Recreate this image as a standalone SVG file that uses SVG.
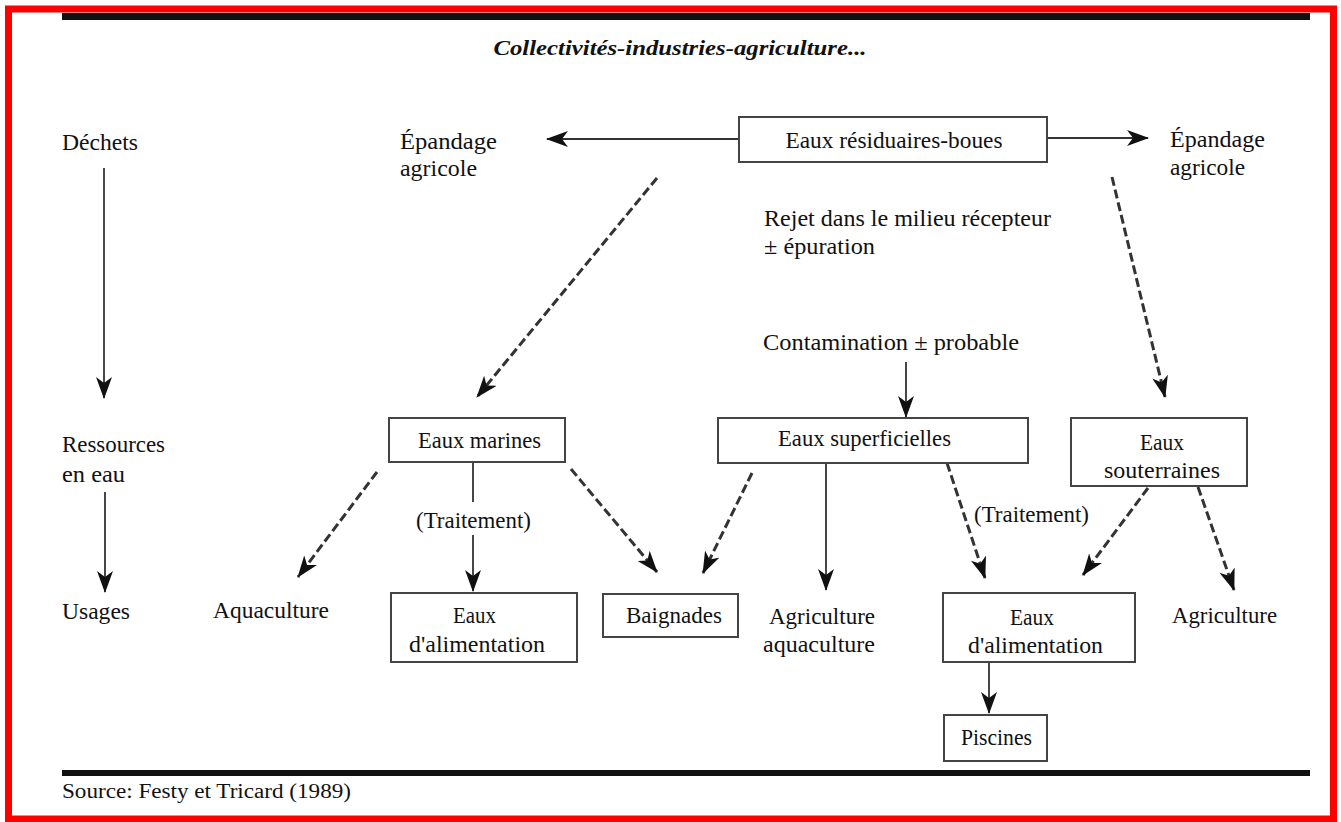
<svg xmlns="http://www.w3.org/2000/svg" width="1341" height="822" viewBox="0 0 1341 822">
<style>
text{font-family:"Liberation Serif","Times New Roman",serif;font-size:24px;fill:#111}
.box{fill:#fff;stroke:#444;stroke-width:2}
.solid{fill:none;stroke:#333;stroke-width:1.8}
.dash{fill:none;stroke:#333;stroke-width:3;stroke-dasharray:9 4}
.mid{text-anchor:middle}
</style>
<defs>
<marker id="ah" markerUnits="userSpaceOnUse" markerWidth="22" markerHeight="16" refX="21" refY="8" orient="auto" viewBox="0 0 22 16">
<path d="M0,0 L22,8 L0,16 L6,8 z" fill="#111"/>
</marker>
</defs>
<rect x="8.5" y="9" width="1325" height="810" fill="#fff" stroke="#f00" stroke-width="7"/>
<rect x="62" y="13" width="1248" height="7" fill="#111"/>
<rect x="62" y="770" width="1248" height="6" fill="#111"/>
<text x="680" y="55" class="mid" style="font-weight:bold;font-style:italic;font-size:22px" textLength="373" lengthAdjust="spacingAndGlyphs">Collectivités-industries-agriculture...</text>
<text x="62" y="798" style="font-size:20px" textLength="289" lengthAdjust="spacingAndGlyphs">Source:  Festy et Tricard (1989)</text>

<g id="connectors">
<path class="solid" d="M104,168 V398" marker-end="url(#ah)"/>
<path class="solid" d="M105,492 V592" marker-end="url(#ah)"/>
<path class="solid" d="M739,139 H547" marker-end="url(#ah)"/>
<path class="solid" d="M1047,138 H1148" marker-end="url(#ah)"/>
<path class="dash" d="M657,178 L477,397" marker-end="url(#ah)"/>
<path class="dash" d="M1112,177 L1165,397" marker-end="url(#ah)"/>
<path class="solid" d="M906,362 V417" marker-end="url(#ah)"/>
<path class="dash" d="M377,472 L298,577" marker-end="url(#ah)"/>
<path class="solid" d="M473,462 V502"/>
<path class="solid" d="M473,535 V591" marker-end="url(#ah)"/>
<path class="dash" d="M571,469 L657,572" marker-end="url(#ah)"/>
<path class="dash" d="M752,473 L703,573" marker-end="url(#ah)"/>
<path class="solid" d="M826,463 V590" marker-end="url(#ah)"/>
<path class="dash" d="M947,463 L985,578" marker-end="url(#ah)"/>
<path class="dash" d="M1148,488 L1083,575" marker-end="url(#ah)"/>
<path class="dash" d="M1198,487 L1234,590" marker-end="url(#ah)"/>
<path class="solid" d="M989,662 V713" marker-end="url(#ah)"/>
</g>

<g id="dechets"><text x="62" y="150" textLength="76" lengthAdjust="spacingAndGlyphs">Déchets</text></g>
<g id="ressources"><text x="62" y="452" textLength="103" lengthAdjust="spacingAndGlyphs">Ressources</text><text x="62" y="482" textLength="63" lengthAdjust="spacingAndGlyphs">en eau</text></g>
<g id="usages"><text x="62" y="619" textLength="68" lengthAdjust="spacingAndGlyphs">Usages</text></g>

<g id="epandage-left"><text x="400" y="149" textLength="97" lengthAdjust="spacingAndGlyphs">Épandage</text><text x="400" y="176" textLength="77" lengthAdjust="spacingAndGlyphs">agricole</text></g>
<g id="eaux-residuaires"><rect class="box" x="739" y="117" width="308" height="45"/><text x="894" y="148" class="mid" textLength="217" lengthAdjust="spacingAndGlyphs">Eaux résiduaires-boues</text></g>
<g id="epandage-right"><text x="1170" y="147" textLength="95" lengthAdjust="spacingAndGlyphs">Épandage</text><text x="1170" y="175" textLength="75" lengthAdjust="spacingAndGlyphs">agricole</text></g>
<g id="rejet"><text x="764" y="226" textLength="287" lengthAdjust="spacingAndGlyphs">Rejet dans le milieu récepteur</text><text x="764" y="254" textLength="111" lengthAdjust="spacingAndGlyphs">± épuration</text></g>
<g id="contamination"><text x="763" y="350" textLength="256" lengthAdjust="spacingAndGlyphs">Contamination ± probable</text></g>

<g id="eaux-marines"><rect class="box" x="389" y="418" width="176" height="44"/><text x="418" y="448" textLength="123" lengthAdjust="spacingAndGlyphs">Eaux marines</text></g>
<g id="eaux-superficielles"><rect class="box" x="718" y="418" width="310" height="45"/><text x="778" y="446" textLength="173" lengthAdjust="spacingAndGlyphs">Eaux  superficielles</text></g>
<g id="eaux-souterraines"><rect class="box" x="1071" y="418" width="176" height="68"/><text x="1140" y="450" textLength="44" lengthAdjust="spacingAndGlyphs">Eaux</text><text x="1104" y="478" textLength="116" lengthAdjust="spacingAndGlyphs">souterraines</text></g>

<g id="traitement-left"><text x="416" y="528" textLength="115" lengthAdjust="spacingAndGlyphs">(Traitement)</text></g>
<g id="traitement-right"><text x="974" y="522" textLength="115" lengthAdjust="spacingAndGlyphs">(Traitement)</text></g>

<g id="aquaculture"><text x="213" y="618" textLength="116" lengthAdjust="spacingAndGlyphs">Aquaculture</text></g>
<g id="eaux-alimentation-left"><rect class="box" x="391" y="593" width="186" height="69"/><text x="453" y="623" textLength="43" lengthAdjust="spacingAndGlyphs">Eaux</text><text x="409" y="652" textLength="136" lengthAdjust="spacingAndGlyphs">d'alimentation</text></g>
<g id="baignades"><rect class="box" x="603" y="594" width="135" height="43"/><text x="626" y="623" textLength="96" lengthAdjust="spacingAndGlyphs">Baignades</text></g>
<g id="agriculture-aquaculture"><text x="769" y="624" textLength="106" lengthAdjust="spacingAndGlyphs">Agriculture</text><text x="763" y="652" textLength="112" lengthAdjust="spacingAndGlyphs">aquaculture</text></g>
<g id="eaux-alimentation-right"><rect class="box" x="943" y="593" width="192" height="69"/><text x="1010" y="625" textLength="44" lengthAdjust="spacingAndGlyphs">Eaux</text><text x="968" y="653" textLength="135" lengthAdjust="spacingAndGlyphs">d'alimentation</text></g>
<g id="agriculture"><text x="1172" y="623" textLength="105" lengthAdjust="spacingAndGlyphs">Agriculture</text></g>
<g id="piscines"><rect class="box" x="944" y="715" width="103" height="46"/><text x="961" y="745" textLength="71" lengthAdjust="spacingAndGlyphs">Piscines</text></g>
</svg>
